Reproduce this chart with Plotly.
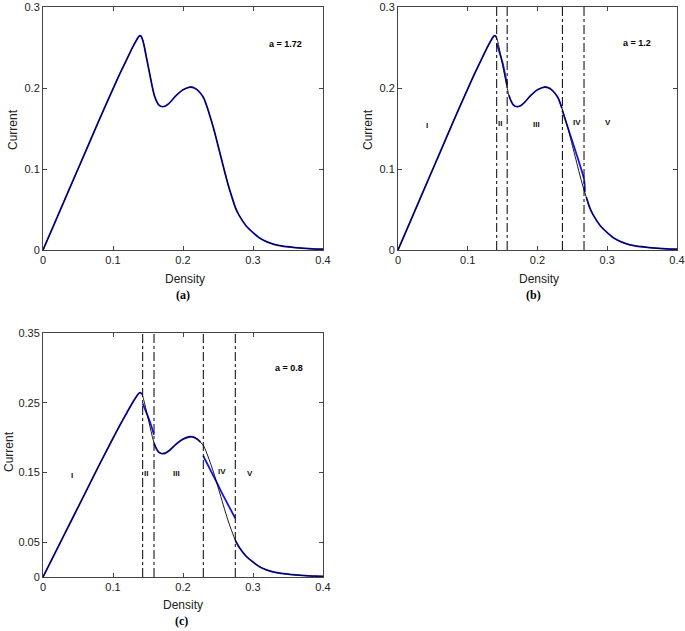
import plotly.graph_objects as go

# ---------------- data ----------------
density = [0, 0.02, 0.04, 0.06, 0.08, 0.10, 0.11, 0.12, 0.125, 0.13, 0.1335, 0.136, 0.1378,
           0.1395, 0.141, 0.1425, 0.1445, 0.147, 0.150, 0.153, 0.156, 0.159, 0.162, 0.165,
           0.168, 0.171, 0.175, 0.18, 0.19, 0.20,
           0.21, 0.215, 0.22, 0.225, 0.23, 0.235, 0.24, 0.245, 0.25, 0.255, 0.26,
           0.265, 0.27, 0.275, 0.28, 0.29, 0.30, 0.31, 0.32, 0.33, 0.34, 0.35,
           0.36, 0.37, 0.38, 0.39, 0.40]
current = [0, 0.040, 0.080, 0.120, 0.160, 0.199, 0.218, 0.236, 0.245, 0.2535, 0.2590, 0.2625, 0.2643,
           0.2643, 0.2625, 0.2590, 0.2520, 0.2410, 0.2280, 0.2150, 0.2020, 0.1910, 0.1840, 0.1795,
           0.1775, 0.1770, 0.1778, 0.1810, 0.1905, 0.1978,
           0.2012, 0.2005, 0.198, 0.1935, 0.1870, 0.175, 0.161, 0.146, 0.129, 0.112, 0.095,
           0.079, 0.065, 0.052, 0.043, 0.030, 0.0215, 0.0144, 0.010, 0.007, 0.0052, 0.004,
           0.003, 0.0022, 0.0016, 0.0012, 0.001]

# region boundaries (density) for panels (b) and (c)
bounds_b = [0.1415, 0.1565, 0.2357, 0.2667]
bounds_c = [0.1424, 0.1586, 0.2290, 0.2747]

# approximate (blue) solution in regions II and IV
seg2_b_x = [0.1415, 0.1500, 0.1565]
seg2_b_y = [0.2550, 0.2310, 0.2040]
seg4_b_x = [0.2357, 0.2500, 0.2667, 0.2680]
seg4_b_y = [0.1720, 0.1340, 0.0875, 0.0720]

seg2_c_x = [0.1424, 0.1500, 0.1550, 0.1586]
seg2_c_y = [0.2490, 0.2300, 0.2160, 0.2040]
seg4_c_x = [0.2290, 0.2480, 0.2553, 0.2747]
seg4_c_y = [0.1736, 0.1360, 0.1210, 0.0842]

region_names = ["I", "II", "III", "IV", "V"]
region_x_b = [0.042, 0.146, 0.199, 0.256, 0.3015]
region_y_b = [0.154, 0.156, 0.155, 0.158, 0.158]
region_x_c = [0.041, 0.147, 0.190, 0.255, 0.295]
region_y_c = [0.146, 0.149, 0.149, 0.151, 0.149]

a_labels = ["a = 1.72", "a = 1.2", "a = 0.8"]
a_label_x = [0.347, 0.342, 0.352]
a_label_y = [0.254, 0.256, 0.300]

captions = ["(a)", "(b)", "(c)"]
x_title = "Density"
y_title = "Current"
x_ticks = [0, 0.1, 0.2, 0.3, 0.4]
y_ticks_ab = [0, 0.1, 0.2, 0.3]
y_ticks_c = [0, 0.05, 0.15, 0.25, 0.35]
y_max = [0.3, 0.3, 0.35]


def blue_curve(bounds, s2x, s2y, s4x, s4y):
    xs, ys = [], []
    b1, b2, b3, b4 = bounds
    for x, y in zip(density, current):
        if x <= b1:
            xs.append(x); ys.append(y)
    xs += [None] + s2x + [None]
    ys += [None] + s2y + [None]
    for x, y in zip(density, current):
        if b2 <= x <= b3:
            xs.append(x); ys.append(y)
    xs += [None] + s4x + [None]
    ys += [None] + s4y + [None]
    for x, y in zip(density, current):
        if x >= b4:
            xs.append(x); ys.append(y)
    return xs, ys


fig = go.Figure()
BLUE = "#1414e6"
BW = 1.8
KW = 0.9
SM = 0.6

panels = [("x", "y"), ("x2", "y2"), ("x3", "y3")]

# panel (a)
fig.add_trace(go.Scatter(x=density, y=current, mode="lines",
                         line=dict(color=BLUE, width=BW, shape="spline", smoothing=SM),
                         xaxis="x", yaxis="y", showlegend=False))
fig.add_trace(go.Scatter(x=density, y=current, mode="lines",
                         line=dict(color="black", width=KW, shape="spline", smoothing=SM),
                         xaxis="x", yaxis="y", showlegend=False))

# panel (b)
bx, by = blue_curve(bounds_b, seg2_b_x, seg2_b_y, seg4_b_x, seg4_b_y)
fig.add_trace(go.Scatter(x=bx, y=by, mode="lines",
                         line=dict(color=BLUE, width=BW, shape="spline", smoothing=SM),
                         xaxis="x2", yaxis="y2", showlegend=False))
fig.add_trace(go.Scatter(x=density, y=current, mode="lines",
                         line=dict(color="black", width=KW, shape="spline", smoothing=SM),
                         xaxis="x2", yaxis="y2", showlegend=False))

# panel (c)
cx, cy = blue_curve(bounds_c, seg2_c_x, seg2_c_y, seg4_c_x, seg4_c_y)
fig.add_trace(go.Scatter(x=cx, y=cy, mode="lines",
                         line=dict(color=BLUE, width=BW, shape="spline", smoothing=SM),
                         xaxis="x3", yaxis="y3", showlegend=False))
fig.add_trace(go.Scatter(x=density, y=current, mode="lines",
                         line=dict(color="black", width=KW, shape="spline", smoothing=SM),
                         xaxis="x3", yaxis="y3", showlegend=False))

# dash-dot boundaries
for bnds, (xa, ya), ym in [(bounds_b, panels[1], y_max[1]), (bounds_c, panels[2], y_max[2])]:
    for b in bnds:
        fig.add_trace(go.Scatter(x=[b, b], y=[0, ym], mode="lines",
                                 line=dict(color="black", width=1, dash="dashdot"),
                                 xaxis=xa, yaxis=ya, showlegend=False))

annotations = []
for names, xs, ys, (xa, ya) in [(region_names, region_x_b, region_y_b, panels[1]),
                                 (region_names, region_x_c, region_y_c, panels[2])]:
    for n, x, y in zip(names, xs, ys):
        annotations.append(dict(x=x, y=y, xref=xa, yref=ya, text="<b>" + n + "</b>",
                                showarrow=False,
                                font=dict(family="Liberation Sans", size=8, color="#111"),
                                xanchor="center", yanchor="middle"))
for t, x, y, (xa, ya) in zip(a_labels, a_label_x, a_label_y, panels):
    annotations.append(dict(x=x, y=y, xref=xa, yref=ya, text="<b>" + t + "</b>", showarrow=False,
                            font=dict(family="Liberation Sans", size=9, color="black"),
                            xanchor="center", yanchor="middle"))

W, H = 685, 631
cap_pos = [(183, 295), (533, 295), (181, 621)]
for t, (px, py) in zip(captions, cap_pos):
    annotations.append(dict(x=px / W, y=1 - py / H, xref="paper", yref="paper",
                            text="<b>" + t + "</b>", showarrow=False,
                            font=dict(family="Liberation Serif", size=12, color="black"),
                            xanchor="center", yanchor="middle"))

title_font = dict(family="Liberation Sans", size=12, color="#222")
xt_pos = [(185, 279), (539, 279), (183, 605)]
yt_pos = [(13, 130), (368, 130), (9, 452)]
for (px, py) in xt_pos:
    annotations.append(dict(x=px / W, y=1 - py / H, xref="paper", yref="paper", text=x_title,
                            showarrow=False, font=title_font, xanchor="center", yanchor="middle"))
for (px, py) in yt_pos:
    annotations.append(dict(x=px / W, y=1 - py / H, xref="paper", yref="paper", text=y_title,
                            showarrow=False, font=title_font, textangle=-90,
                            xanchor="center", yanchor="middle"))

axis_common = dict(showline=True, linecolor="#444", linewidth=1, mirror="ticks",
                   ticks="inside", ticklen=4, tickcolor="#444", showgrid=False, zeroline=False,
                   automargin=False,
                   tickfont=dict(family="Liberation Sans", size=11, color="#222"))

dom_x_a = [43 / W, 323 / W]
dom_x_b = [398 / W, 677 / W]
dom_y_top = [1 - 250 / H, 1 - 7 / H]
dom_y_bot = [1 - 577 / H, 1 - 333 / H]

fig.update_layout(
    width=W, height=H,
    margin=dict(l=0, r=0, t=0, b=0),
    paper_bgcolor="white", plot_bgcolor="white",
    xaxis=dict(domain=dom_x_a, range=[0, 0.4], tickvals=x_ticks, anchor="y", **axis_common),
    yaxis=dict(domain=dom_y_top, range=[0, y_max[0]], tickvals=y_ticks_ab, anchor="x",
               **axis_common),
    xaxis2=dict(domain=dom_x_b, range=[0, 0.4], tickvals=x_ticks, anchor="y2", **axis_common),
    yaxis2=dict(domain=dom_y_top, range=[0, y_max[1]], tickvals=y_ticks_ab, anchor="x2",
                **axis_common),
    xaxis3=dict(domain=dom_x_a, range=[0, 0.4], tickvals=x_ticks, anchor="y3", **axis_common),
    yaxis3=dict(domain=dom_y_bot, range=[0, y_max[2]], tickvals=y_ticks_c, anchor="x3",
                **axis_common),
    annotations=annotations,
)

fig.write_html("out.html", config={"displayModeBar": False},
               post_script="document.body.style.margin='0';document.body.style.overflow='hidden';")
